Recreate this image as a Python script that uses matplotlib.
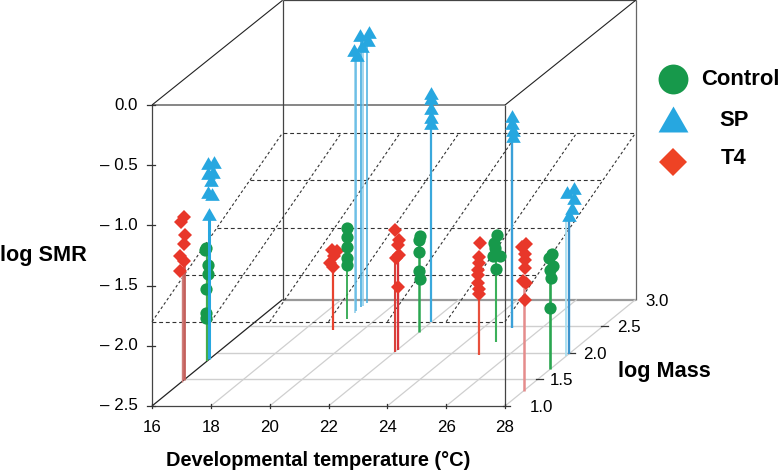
#!/usr/bin/env python3
# -*- coding: utf-8 -*-
"""Oblique 3D scatter of log SMR against temperature and log mass."""

import matplotlib
matplotlib.use('Agg')
import matplotlib.pyplot as plt

temps = [16, 19, 22, 25, 28]
temp_ticks = [16, 18, 20, 22, 24, 26, 28]
smr_ticks = [0.0, -0.5, -1.0, -1.5, -2.0, -2.5]
smr_labels = ['0.0', '\u2013 0.5', '\u2013 1.0', '\u2013 1.5', '\u2013 2.0', '\u2013 2.5']
mass_ticks = [1.0, 1.5, 2.0, 2.5, 3.0]
plane_smr = [-1.8, -1.63, -1.46, -1.29, -1.116]

t4_mass = [
    [1.49, 1.44, 1.505, 1.495, 1.43, 1.495, 1.43],
    [2.41, 2.48, 2.43, 2.38, 2.42],
    [2.02, 2.08, 2.06, 2.08, 2.03, 2.06],
    [1.97, 1.96, 1.96, 1.93, 1.94, 1.94, 1.95, 1.95],
    [1.32, 1.26, 1.31, 1.30, 1.31, 1.28, 1.32, 1.30],
]
t4_smr = [
    [-1.145, -1.164, -1.303, -1.374, -1.442, -1.515, -1.566],
    [-1.831, -1.871, -1.889, -1.919, -1.973],
    [-1.488, -1.60, -1.634, -1.725, -1.73, -1.978],
    [-1.576, -1.684, -1.738, -1.783, -1.829, -1.89, -1.95, -1.989],
    [-1.297, -1.294, -1.378, -1.418, -1.492, -1.583, -1.621, -1.756],
]
t4_stem_mass = [[1.455, 1.49], [2.42], [2.02, 2.06], [1.95], [1.29]]
t4_stem_top = [[-1.566, -1.515], [-1.973], [-1.73, -1.73], [-1.989], [-1.583]]

control_mass = [
    [1.83, 1.81, 1.86, 1.85, 1.82, 1.82, 1.83],
    [2.64, 2.64, 2.64, 2.64, 2.64],
    [2.40, 2.38, 2.38, 2.39, 2.40],
    [2.23, 2.19, 2.20, 2.17, 2.27, 2.21],
    [1.72, 1.68, 1.74, 1.69, 1.70, 1.69],
]
control_smr = [
    [-1.556, -1.563, -1.708, -1.778, -1.89, -2.089, -2.14],
    [-1.749, -1.824, -1.907, -1.993, -2.054],
    [-1.708, -1.729, -1.829, -1.991, -2.065],
    [-1.623, -1.669, -1.722, -1.772, -1.817, -1.899],
    [-1.552, -1.573, -1.664, -1.675, -1.749, -1.993],
]
control_stem_mass = [[1.84], [2.64], [2.39], [2.21], [1.69]]
control_stem_top = [[-1.556], [-1.749], [-1.729], [-1.722], [-1.749]]

sp_mass = [
    [1.86, 1.95, 1.85, 1.94, 1.91, 1.85, 1.92, 1.88],
    [2.97, 2.95, 2.83, 2.86, 2.74, 2.79],
    [2.57, 2.57, 2.57, 2.57, 2.57],
    [2.46, 2.46, 2.47, 2.47],
    [1.95, 2.05, 2.05, 2.02, 1.98],
]
sp_smr = [
    [-0.865, -0.896, -0.944, -0.974, -1.022, -1.102, -1.148, -1.296],
    [-0.261, -0.323, -0.229, -0.332, -0.313, -0.377],
    [-0.597, -0.639, -0.719, -0.792, -0.846],
    [-0.738, -0.794, -0.855, -0.91],
    [-1.142, -1.154, -1.238, -1.31, -1.347],
]
sp_stem_mass = [[1.88], [2.75, 2.78, 2.85, 2.88, 2.94], [2.57], [2.46], [1.94, 1.98]]
sp_stem_top = [[-1.296], [-0.313, -0.377, -0.229, -0.332, -0.323], [-0.846], [-0.91], [-1.347, -1.347]]

GREEN = '#17994b'
BLUE = '#27a7e0'
RED = '#e8372a'
TRIANGLE = [(-1, -0.87), (1, -0.87), (0, 0.87)]

# per stem colour and width
t4_stem_style = [[('#cf7d7a', 1.0), ('#c4605c', 2.0)], [('#e8432f', 1.6)],
                 [('#d9413a', 1.5), ('#d9343a', 1.7)], [('#e8503c', 1.6)], [('#e58c8c', 1.8)]]
control_stem_style = [[('#43ad4c', 1.6)], [('#2fa84f', 1.3)], [('#2aa650', 1.8)],
                      [('#3bb05a', 1.5)], [('#2aa650', 1.9)]]
sp_stem_style = [[('#27a7e0', 2.2)],
                 [('#8ccbe8', 1.1), ('#5cb8e4', 1.1), ('#45addf', 1.2), ('#8ccbe8', 1.1), ('#45addf', 1.1)],
                 [('#3aa8dc', 1.6)], [('#3aa0d8', 1.7)], [('#a8def0', 1.3), ('#3d93cc', 1.7)]]


def proj(temp, mass, smr):
    # oblique projection: front face is flat, depth runs up and to the right
    x = 152 + 29.42 * (temp - 16) + 65.3 * (mass - 1)
    y = 406 - 53.25 * (mass - 1) - 120.4 * (smr + 2.5)
    return x, y


def line3(ax, a, b, **kw):
    pa, pb = proj(*a), proj(*b)
    ax.plot([pa[0], pb[0]], [pa[1], pb[1]], solid_capstyle='butt', **kw)


def draw_series(ax, mass, smr, stem_mass, stem_top, stem_style, color, marker, size, z):
    for i, temp in enumerate(temps):
        for m, top, (c, lw) in zip(stem_mass[i], stem_top[i], stem_style[i]):
            line3(ax, (temp, m, -2.5), (temp, m, top), color=c, lw=lw, zorder=z)
        xy = [proj(temp, m, v) for m, v in zip(mass[i], smr[i])]
        ax.plot([p[0] for p in xy], [p[1] for p in xy], ls='none', marker=marker,
                ms=size, color=color, mew=0, zorder=z + 1)


plt.rcParams['font.family'] = ['Liberation Sans', 'DejaVu Sans']
fig = plt.figure(figsize=(7.79, 4.74), dpi=100)
ax = fig.add_axes([0, 0, 1, 1])
ax.set_xlim(0, 779)
ax.set_ylim(474, 0)
ax.axis('off')

# floor grid
for m in mass_ticks[1:-1]:
    line3(ax, (16, m, -2.5), (28, m, -2.5), color='#cfcfcf', lw=1.0, zorder=1)
line3(ax, (16, 3, -2.5), (28, 3, -2.5), color='#999999', lw=1.6, zorder=1)
for t in temp_ticks[1:]:
    line3(ax, (t, 1, -2.5), (t, 3, -2.5), color='#cfcfcf', lw=0.9, zorder=1)

# box
wire = dict(color='#444444', lw=0.9, zorder=2)
top_smr = -0.015
line3(ax, (16, 1, -2.5), (16, 3, -2.5), color='#222222', lw=0.9, zorder=2)
line3(ax, (16, 1, -2.5), (28, 1, -2.5), **wire)
line3(ax, (16, 1, -2.5), (16, 1, 0), **wire)
line3(ax, (28, 1, -2.5), (28, 1, 0), **wire)
line3(ax, (16, 1, 0), (28, 1, 0), color='#666666', lw=1.1, zorder=2)
line3(ax, (16, 3, -2.5), (16, 3, top_smr), **wire)
line3(ax, (28, 3, -2.5), (28, 3, top_smr), color='#666666', lw=0.9, zorder=2)
line3(ax, (16, 3, top_smr), (28, 3, top_smr), **wire)
line3(ax, (16, 1, 0), (16, 3, top_smr), color='#222222', lw=0.8, zorder=2)
line3(ax, (28, 1, 0), (28, 3, top_smr), color='#222222', lw=0.8, zorder=2)

# dashed regression plane
dash = dict(color='#333333', lw=0.8, ls=(0, (3.5, 2.5)), zorder=3)
for m, v in zip(mass_ticks, plane_smr):
    line3(ax, (16, m, v), (28, m, v), **dash)
dots = dict(color='#333333', lw=0.8, ls=(0, (2.5, 2.2)), zorder=3)
for t in temp_ticks:
    line3(ax, (t, 1, plane_smr[0]), (t, 3, plane_smr[-1]), **dots)

draw_series(ax, t4_mass, t4_smr, t4_stem_mass, t4_stem_top, t4_stem_style,
            RED, 'D', 7.2, 5)
draw_series(ax, control_mass, control_smr, control_stem_mass, control_stem_top, control_stem_style,
            GREEN, 'o', 8.8, 5)
draw_series(ax, sp_mass, sp_smr, sp_stem_mass, sp_stem_top, sp_stem_style,
            BLUE, TRIANGLE, 10.5, 7)

# ticks and tick labels
tick_fs = 12.2
for t in temp_ticks:
    x, y = proj(t, 1, -2.5)
    ax.plot([x, x], [y - 2, y + 2], color='#333333', lw=0.9, zorder=2)
    ax.text(x, y + 21, str(t), ha='center', va='center', fontsize=tick_fs)
for v, lab in zip(smr_ticks, smr_labels):
    x, y = proj(16, 1, v)
    ax.plot([x - 5, x + 3], [y, y], color='#333333', lw=0.9, zorder=2)
    ax.text(x - 14, y, lab, ha='right', va='center', fontsize=tick_fs)
mass_label_dx = [25, 12.5, 13, 14, 10]
for m, dx in zip(mass_ticks, mass_label_dx):
    x, y = proj(28, m, -2.5)
    if m < 3:
        ax.plot([x - 2, x + 5], [y, y], color='#333333', lw=0.9, zorder=2)
    ax.text(x + dx, y + 1.5, '%.1f' % m, ha='left', va='center', fontsize=tick_fs)

ax.text(318, 461, 'Developmental temperature (\u00b0C)', ha='center', va='center',
        fontsize=14.4, fontweight='bold')
ax.text(0, 256, 'log SMR', ha='left', va='center', fontsize=15.6, fontweight='bold')
ax.text(618, 372, 'log Mass', ha='left', va='center', fontsize=15.6, fontweight='bold')

# legend
ax.plot(673, 79, marker='o', ms=21.5, color=GREEN, mew=0, ls='none')
ax.plot(673, 119, marker=TRIANGLE, ms=21.5, color=BLUE, mew=0, ls='none')
ax.plot(673, 161.5, marker='D', ms=14.6, color='#ee4324', mew=0, ls='none')
ax.text(740, 79, 'Control', ha='center', va='center', fontsize=15.8, fontweight='bold')
ax.text(734, 120, 'SP', ha='center', va='center', fontsize=15.8, fontweight='bold')
ax.text(734, 159, 'T4', ha='center', va='center', fontsize=15.8, fontweight='bold')

plt.savefig('out.png', dpi=100)
